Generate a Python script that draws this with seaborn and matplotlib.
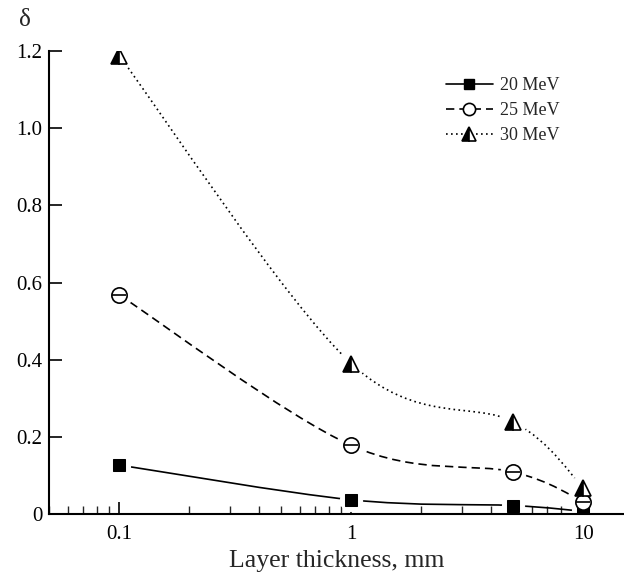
import numpy as np
import matplotlib
matplotlib.use('Agg')
import matplotlib.pyplot as plt
from matplotlib.path import Path
from matplotlib.patches import PathPatch
from matplotlib.lines import Line2D
import seaborn as sns

# Values
thickness = [0.1, 1, 5, 10]
delta_20 = [0.127, 0.037, 0.022, 0.007]
delta_25 = [0.568, 0.178, 0.109, 0.032]
delta_30 = [1.188, 0.390, 0.239, 0.068]
labels = ['20 MeV', '25 MeV', '30 MeV']
y_ticks = [0, 0.2, 0.4, 0.6, 0.8, 1.0, 1.2]
y_tick_labels = ['0', '0.2', '0.4', '0.6', '0.8', '1.0', '1.2']

sns.set_style('ticks')
plt.rcParams['font.family'] = ['Liberation Serif', 'DejaVu Serif']


def smooth_path(x, y):
    # Catmull-Rom style bezier through the points, in log-x space
    lx = np.log10(x)
    pts = np.column_stack([lx, y])
    ext = np.vstack([pts[0], pts, pts[-1]])
    verts = [pts[0]]
    codes = [Path.MOVETO]
    for i in range(len(pts) - 1):
        p0, p1, p2, p3 = ext[i], ext[i + 1], ext[i + 2], ext[i + 3]
        c1 = p1 + (p2 - p0) / 6.0
        c2 = p2 - (p3 - p1) / 6.0
        verts += [c1, c2, p2]
        codes += [Path.CURVE4] * 3
    verts = np.array(verts)
    verts[:, 0] = 10 ** verts[:, 0]
    return Path(verts, codes)


fig = plt.figure(figsize=(6.24, 5.75), dpi=100)
ax = fig.add_axes([0.079, 0.106, 0.921, 0.805])
ax.set_xscale('log')

series = [
    (delta_20, '-', dict(marker='s', ms=9, mfc='black', mec='black')),
    (delta_25, (0, (5, 3)), dict(marker='o', ms=11, mfc='white', mec='black', mew=1.2)),
    (delta_30, (0, (1, 2)), dict(marker='^', ms=12, mfc='black', mec='black',
                               fillstyle='left', markerfacecoloralt='white', mew=1.2)),
]

handles = []
for (vals, ls, mk), lab in zip(series, labels):
    patch = PathPatch(smooth_path(thickness, vals), facecolor='none', edgecolor='black',
                      linestyle=ls, linewidth=1.2, zorder=1.5)
    ax.add_patch(patch)
    # white halo so the curve stops short of each marker
    sns.lineplot(x=thickness, y=vals, ax=ax, linestyle='', marker='o',
                 markersize=mk['ms'] + 7, markerfacecolor='white',
                 markeredgecolor='white', zorder=2)
    sns.lineplot(x=thickness, y=vals, ax=ax, linestyle='', color='black',
                 zorder=3, **mk)
    if mk['marker'] == 'o':
        sns.lineplot(x=thickness, y=vals, ax=ax, linestyle='', marker='_',
                     markersize=mk['ms'] - 1, markeredgecolor='black', mew=1.2, zorder=3.1)
    handles.append(Line2D([], [], color='black', linestyle=ls, linewidth=1.2,
                          **{k: (v * 0.8 if k == 'ms' else v) for k, v in mk.items()}))

ax.set_xlim(0.0499, 15.0)
ax.set_ylim(0, 1.2)
ax.set_yticks(y_ticks)
ax.set_yticklabels(y_tick_labels)
ax.set_xticks([0.1, 1, 10])
ax.set_xticklabels(['0.1', '1', '10'])
ax.tick_params(axis='both', which='major', direction='in', length=9, width=1.2,
               labelsize=15, colors='black')
ax.tick_params(axis='x', which='major', pad=8)
ax.tick_params(axis='y', which='major', pad=5)
ax.tick_params(axis='x', which='minor', direction='in', length=6, width=1.0)
sns.despine(ax=ax)
for sp in ['left', 'bottom']:
    ax.spines[sp].set_linewidth(1.5)
    ax.spines[sp].set_color('black')

ax.set_xlabel('Layer thickness, mm', fontsize=18.5, labelpad=4)
fig.text(0.040, 0.965, 'δ', fontsize=18, ha='center', va='center')

leg = ax.legend(handles, labels, loc='upper left', bbox_to_anchor=(446 / 624, 1 - 77 / 575),
                bbox_transform=fig.transFigure, frameon=False, fontsize=13,
                handlelength=2.6, handletextpad=0.4, labelspacing=0.45, borderpad=0,
                borderaxespad=0)

fig.savefig('out.png', dpi=100)
